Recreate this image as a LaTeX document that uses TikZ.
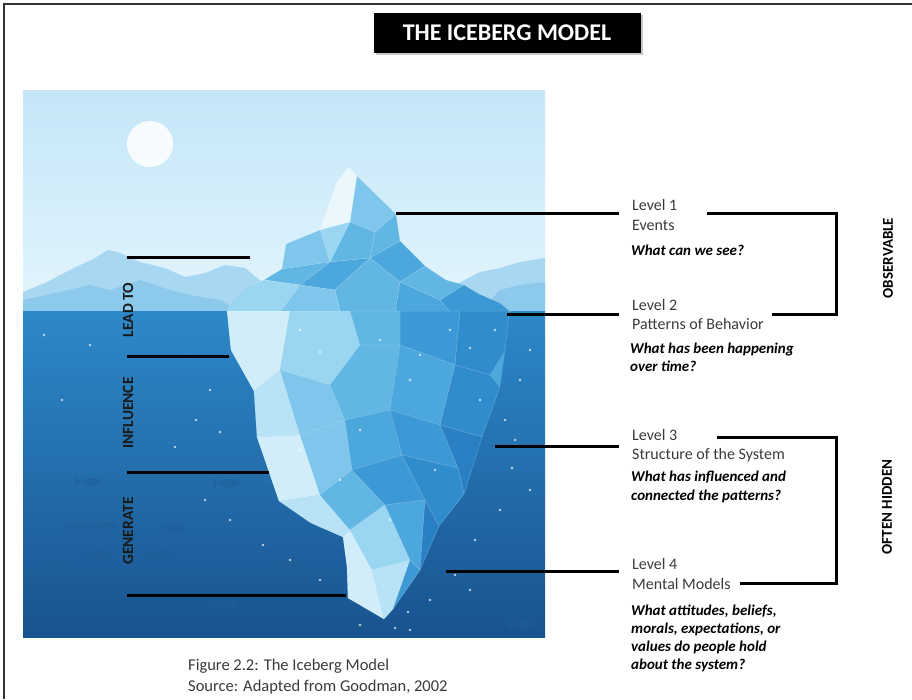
\documentclass[tikz,border=0pt]{standalone}
\usepackage{fontspec}
\setmainfont{Carlito}
\usetikzlibrary{shapes}
\usetikzlibrary{shadows}
\definecolor{sky}{HTML}{C4E6F8}
\definecolor{haze}{HTML}{E3F5FC}
\definecolor{hillfar}{HTML}{A8D8F1}
\definecolor{hillnear}{HTML}{8CC9EA}
\definecolor{seatop}{HTML}{2E88C8}
\definecolor{seabot}{HTML}{18538F}
\definecolor{fish}{HTML}{1F5E98}
\definecolor{iceA}{HTML}{EAF7FD}
\definecolor{iceB}{HTML}{D2EDFA}
\definecolor{iceC}{HTML}{B8E2F6}
\definecolor{iceD}{HTML}{9AD5F1}
\definecolor{iceE}{HTML}{7EC6EB}
\definecolor{iceF}{HTML}{62B6E4}
\definecolor{iceG}{HTML}{4CA7DD}
\definecolor{iceH}{HTML}{3D99D5}
\definecolor{iceI}{HTML}{318CCC}
\definecolor{iceJ}{HTML}{2A80C3}
\definecolor{ink}{HTML}{3A3A3A}
\begin{document}
\begin{tikzpicture}[x=1pt,y=-1pt]
			\tikzstyle{lvl}=[anchor=west,align=left,inner xsep=13pt,inner ysep=0pt,text=ink,font=\fontsize{16}{19.5}\selectfont]
			\tikzstyle{ask}=[anchor=west,align=left,inner sep=0pt,font=\fontsize{15}{18.2}\selectfont\bfseries\itshape]
			\tikzstyle{side}=[rotate=90,inner sep=0pt,font=\fontsize{15}{17}\selectfont\bfseries]
			\tikzstyle{verb}=[rotate=90,inner sep=0pt,text=black!90,font=\fontsize{15.5}{18}\selectfont\bfseries]
			\tikzstyle{tie}=[line width=3pt]
			\tikzstyle{facet}=[draw=white,draw opacity=.18,line width=.5pt,line join=round]

			\useasboundingbox (0,0) rectangle (912,699);
			\draw[line width=1.6pt,black!80] (4,699) -- (4,4) -- (912,4);

			\node[fill=black,text=white,minimum width=267pt,minimum height=40pt,drop shadow={opacity=.45},font=\fontsize{24}{28}\selectfont\bfseries] (ttl) at (507,33) {THE ICEBERG MODEL};

			% the picture
			\begin{scope}
				\clip (23,90) rectangle (545,637);
				\fill[top color=sky,bottom color=haze] (23,90) rectangle (545,312);
				\fill[white,opacity=.85] (150,144) circle (23);
				\fill[hillfar] (23,311) -- (23,292) -- (45,283) -- (70,270) -- (95,258) -- (108,250) -- (118,252) -- (140,262) -- (165,268) -- (185,277) -- (205,273) -- (225,265) -- (245,268) -- (262,282) -- (240,311) -- cycle;
				\fill[hillfar] (440,311) -- (455,285) -- (480,272) -- (500,268) -- (520,262) -- (545,258) -- (545,311) -- cycle;
				\fill[hillnear] (23,311) -- (23,300) -- (60,292) -- (90,285) -- (110,290) -- (140,280) -- (170,290) -- (195,296) -- (220,300) -- (240,311) -- cycle;
				\fill[hillnear] (480,311) -- (500,290) -- (520,285) -- (545,282) -- (545,311) -- cycle;
				\fill[top color=seatop,bottom color=seabot] (23,311) rectangle (545,637);
				\foreach \p in {(91,482),(229,483),(79,526),(107,526),(175,528),(57,567),(100,555),(161,555),(291,564),(227,605),(525,625)}
					\fill[fish,opacity=.55] \p ellipse (11 and 4) ++(-9,0) -- ++(-7,-5) -- ++(0,10) -- cycle;

				% above the water
				\fill[facet,fill=iceA] (348,167) -- (357,176) -- (350,222) -- (320,230) -- (336,184) -- cycle;
				\fill[facet,fill=iceE] (357,176) -- (396,214) -- (375,232) -- (350,222) -- cycle;
				\fill[facet,fill=iceF] (396,214) -- (400,241) -- (370,258) -- (375,232) -- cycle;
				\fill[facet,fill=iceD] (320,230) -- (350,222) -- (330,262) -- cycle;
				\fill[facet,fill=iceF] (350,222) -- (375,232) -- (370,258) -- (330,262) -- cycle;
				\fill[facet,fill=iceE] (320,230) -- (330,262) -- (282,269) -- (286,244) -- cycle;
				\fill[facet,fill=iceF] (282,269) -- (330,262) -- (300,285) -- (264,280) -- cycle;
				\fill[facet,fill=iceD] (264,280) -- (300,285) -- (280,312) -- (227,312) -- (232,301) -- (246,287) -- cycle;
				\fill[facet,fill=iceG] (330,262) -- (370,258) -- (335,290) -- (300,285) -- cycle;
				\fill[facet,fill=iceG] (370,258) -- (400,241) -- (425,266) -- (400,282) -- cycle;
				\fill[facet,fill=iceF] (370,258) -- (400,282) -- (395,312) -- (340,312) -- (335,290) -- cycle;
				\fill[facet,fill=iceE] (300,285) -- (335,290) -- (340,312) -- (280,312) -- cycle;
				\fill[facet,fill=iceF] (400,282) -- (425,266) -- (446,280) -- (464,285) -- (440,300) -- cycle;
				\fill[facet,fill=iceG] (400,282) -- (440,300) -- (450,312) -- (395,312) -- cycle;
				\fill[facet,fill=iceH] (440,300) -- (464,285) -- (479,294) -- (500,303) -- (511,312) -- (450,312) -- cycle;

				% below the water
				\fill[iceG] (227,311) -- (231,350) -- (245,375) -- (254,391) -- (257,437) -- (268,469) -- (279,501) -- (311,523) -- (343,537) -- (347,567) -- (348,598) -- (384,619) -- (393,609) -- (420,570) -- (439,526) -- (464,494) -- (482,437) -- (500,387) -- (505,351) -- (509,311) -- cycle;
				\fill[facet,fill=iceB] (227,311) -- (290,311) -- (280,370) -- (254,391) -- (245,375) -- (231,350) -- cycle;
				\fill[facet,fill=iceC] (254,391) -- (280,370) -- (300,435) -- (257,437) -- cycle;
				\fill[facet,fill=iceB] (257,437) -- (300,435) -- (320,495) -- (279,501) -- (268,469) -- cycle;
				\fill[facet,fill=iceC] (279,501) -- (320,495) -- (311,523) -- cycle;
				\fill[facet,fill=iceC] (311,523) -- (320,495) -- (350,530) -- (343,537) -- cycle;
				\fill[facet,fill=iceB] (343,537) -- (350,530) -- (372,570) -- (348,598) -- (347,567) -- cycle;
				\fill[facet,fill=iceB] (348,598) -- (372,570) -- (384,619) -- cycle;
				\fill[facet,fill=iceD] (290,311) -- (350,311) -- (360,345) -- (330,385) -- (280,370) -- cycle;
				\fill[facet,fill=iceF] (350,311) -- (400,311) -- (400,345) -- (360,345) -- cycle;
				\fill[facet,fill=iceE] (280,370) -- (330,385) -- (345,420) -- (300,435) -- cycle;
				\fill[facet,fill=iceF] (330,385) -- (360,345) -- (400,345) -- (390,410) -- (345,420) -- cycle;
				\fill[facet,fill=iceE] (300,435) -- (345,420) -- (352,470) -- (320,495) -- cycle;
				\fill[facet,fill=iceG] (345,420) -- (390,410) -- (402,455) -- (352,470) -- cycle;
				\fill[facet,fill=iceF] (320,495) -- (352,470) -- (385,505) -- (350,530) -- cycle;
				\fill[facet,fill=iceH] (352,470) -- (402,455) -- (425,500) -- (385,505) -- cycle;
				\fill[facet,fill=iceD] (350,530) -- (385,505) -- (410,560) -- (372,570) -- cycle;
				\fill[facet,fill=iceC] (372,570) -- (410,560) -- (393,609) -- (384,619) -- cycle;
				\fill[facet,fill=iceG] (385,505) -- (425,500) -- (420,570) -- (410,560) -- cycle;
				\fill[facet,fill=iceH] (410,560) -- (420,570) -- (393,609) -- cycle;
				\fill[facet,fill=iceH] (400,311) -- (460,311) -- (455,365) -- (400,345) -- cycle;
				\fill[facet,fill=iceI] (460,311) -- (509,311) -- (505,351) -- (490,375) -- (455,365) -- cycle;
				\fill[facet,fill=iceG] (400,345) -- (455,365) -- (440,425) -- (390,410) -- cycle;
				\fill[facet,fill=iceI] (455,365) -- (490,375) -- (500,387) -- (482,437) -- (440,425) -- cycle;
				\fill[facet,fill=iceH] (390,410) -- (440,425) -- (458,468) -- (402,455) -- cycle;
				\fill[facet,fill=iceJ] (440,425) -- (482,437) -- (464,494) -- (458,468) -- cycle;
				\fill[facet,fill=iceI] (402,455) -- (458,468) -- (464,494) -- (439,526) -- (425,500) -- cycle;
				\fill[facet,fill=iceJ] (425,500) -- (439,526) -- (420,570) -- cycle;

				\foreach \p in {(44,335),(62,400),(90,345),(185,357),(210,390),(196,420),(175,447),(220,432),(205,500),(230,520),(263,545),(290,560),(320,580),(360,625),(395,628),(408,612),(300,330),(320,352),(380,340),(420,355),(450,330),(470,348),(480,400),(505,420),(520,380),(530,350),(512,468),(530,490),(500,510),(475,540),(455,575),(430,600),(410,630),(300,450),(340,480),(360,430),(410,380),(435,470),(390,520),(495,330),(515,440),(470,590)}
					\fill[white,opacity=.7] \p circle (1.3);
			\end{scope}

			% connectors on the left
			\foreach \n/\y/\x in {a/257/250,b/356/229,c/472/269,d/595/346}{
				\coordinate (gl\n) at (127,\y);
				\coordinate (gr\n) at (\x,\y);
				\draw[tie] (gl\n) -- (gr\n);
			}
			\node[verb] (lead) at (128,310) {LEAD TO};
			\node[verb] (infl) at (128,413) {INFLUENCE};
			\node[verb] (gen) at (128,531) {GENERATE};

			% levels
			\node[lvl] (lvA) at (619,215) {Level 1\\Events};
			\node[lvl] (lvB) at (619,314.5) {Level 2\\Patterns of Behavior};
			\node[lvl] (lvC) at (619,445.5) {Level 3\\Structure of the System};
			\node[lvl] (lvD) at (619,574) {Level 4\\Mental Models};
			\node[ask] (qA) at (631,250) {What can we see?};
			\node[ask] (qB) at (630,357) {What has been happening\\over time?};
			\node[ask] (qC) at (631,487) {What has influenced and\\connected the patterns?};
			\node[ask] (qD) at (631,638.5) {What attitudes, beliefs,\\morals, expectations, or\\values do people hold\\about the system?};

			\coordinate (tipA) at (396,213);
			\coordinate (tipB) at (507,314);
			\coordinate (tipC) at (495,446);
			\coordinate (tipD) at (446,571);
			\draw[tie] (tipA) -- (tipA -| lvA.west);
			\draw[tie] (tipB) -- (tipB -| lvB.west);
			\draw[tie] (tipC) -- (tipC -| lvC.west);
			\draw[tie] (tipD) -- (tipD -| lvD.west);

			\coordinate (obsT) at (707,213);
			\coordinate (obsB) at (772,314);
			\coordinate (hidT) at (717,437);
			\coordinate (hidB) at (740,583);
			\draw[tie] (obsT) -- ++(129,0) |- (obsB);
			\draw[tie] (hidT) -- ++(119,0) |- (hidB);
			\node[side] (obs) at (888,258) {OBSERVABLE};
			\node[side] (hid) at (887,507) {OFTEN HIDDEN};

			\node[anchor=west,align=left,inner sep=0pt,text=ink,font=\fontsize{16.5}{21}\selectfont] (cap) at (188,676.5) {Figure 2.2: The Iceberg Model\\Source: Adapted from Goodman, 2002};
\end{tikzpicture}
\end{document}
